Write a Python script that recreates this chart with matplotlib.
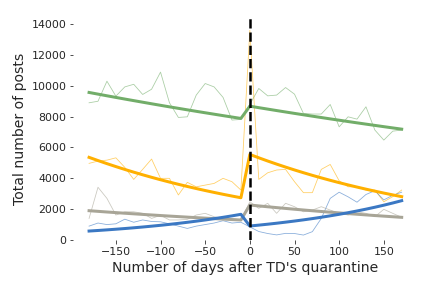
import matplotlib
matplotlib.use("Agg")
import matplotlib.pyplot as plt

# ===== data =====
days = list(range(-180, 180, 10))

# raw counts every 10 days
green_raw = [8900, 9000, 10300, 9330, 9930, 10100, 9440, 9780, 10890, 8900,
             7950, 7990, 9400, 10150, 9930, 9250, 7780, 7820,
             8800, 9830, 9350, 9400, 9890, 9460, 8210, 8170, 8170, 8790,
             7340, 7990, 7840, 8640, 7130, 6480, 7060, 7130]
orange_raw = [4970, 5120, 5180, 5330, 4710, 3930, 4580, 5250, 4000, 4000,
              2920, 3740, 3450, 3560, 3670, 4000, 3780, 3240,
              13600, 3930, 4360, 4540, 4580, 3780, 3070, 3070, 4580, 4900,
              3840, 3450, 3450, 3240, 3240, 2480, 2810, 3240]
blue_raw = [900, 1100, 1000, 1050, 1350, 1150, 1300, 1200, 1180, 1050,
            900, 750, 900, 1000, 1100, 1250, 1100, 1150,
            850, 550, 420, 330, 430, 420, 320, 540, 1400, 2700,
            3100, 2800, 2450, 2950, 3200, 2600, 2900, 3100]
gray_raw = [1400, 3420, 2700, 1620, 1830, 1830, 1730, 1400, 1600, 1300,
            1300, 1340, 1620, 1730, 1510, 1400, 1400, 1300,
            2480, 2050, 2380, 1730, 2380, 2160, 1830, 1940, 2160, 1940,
            1730, 1620, 1830, 1730, 1510, 1990, 1730, 1470]

# fitted trends, before and after day 0
green_fit = [9570, 9462, 9354, 9248, 9143, 9040, 8938, 8836, 8736, 8637,
             8540, 8443, 8347, 8253, 8160, 8067, 7976, 7885,
             8680, 8584, 8490, 8396, 8304, 8212, 8122, 8032, 7944, 7856,
             7770, 7684, 7599, 7516, 7433, 7351, 7270, 7190]
orange_fit = [5360, 5153, 4953, 4762, 4577, 4400, 4230, 4066, 3909, 3758,
              3612, 3472, 3338, 3209, 3085, 2965, 2851, 2740,
              5550, 5332, 5123, 4922, 4729, 4543, 4365, 4193, 4029, 3871,
              3719, 3573, 3433, 3298, 3168, 3044, 2925, 2810]
blue_fit = [580, 617, 657, 699, 743, 791, 842, 896, 953, 1014,
            1079, 1148, 1221, 1299, 1383, 1471, 1565, 1665,
            907, 964, 1024, 1088, 1157, 1229, 1306, 1388, 1475, 1568,
            1666, 1771, 1882, 2000, 2125, 2258, 2400, 2550]
gray_fit = [1900, 1858, 1816, 1776, 1736, 1698, 1660, 1623, 1587, 1551,
            1517, 1483, 1450, 1418, 1386, 1355, 1325, 1296,
            2268, 2211, 2155, 2101, 2048, 1996, 1946, 1897, 1849, 1803,
            1757, 1713, 1670, 1628, 1587, 1547, 1508, 1470]

GREEN = "#72ad69"
ORANGE = "#ffb000"
BLUE = "#3b78c3"
GRAY = "#a8a597"

fig = plt.figure(figsize=(6, 4), dpi=72)
ax = fig.add_axes([0.170, 0.1667, 0.796, 0.7708])

# thin raw lines
for raw, col in [(green_raw, GREEN), (orange_raw, ORANGE),
                 (blue_raw, BLUE), (gray_raw, GRAY)]:
    ax.plot(days, raw, color=col, lw=0.8, alpha=0.6, zorder=1)

# thick fitted lines
for fit, col in [(green_fit, GREEN), (orange_fit, ORANGE),
                 (gray_fit, GRAY), (blue_fit, BLUE)]:
    ax.plot(days, fit, color=col, lw=3, zorder=2)

ax.axvline(0, color="black", ls="--", lw=2.5, zorder=3)

ax.set_xlim(-197.5, 187.5)
ax.set_ylim(0, 14400)
ax.set_xticks([-150, -100, -50, 0, 50, 100, 150])
ax.set_yticks(range(0, 14001, 2000))

for s in ax.spines.values():
    s.set_visible(False)
ax.tick_params(labelsize=11, length=3.5, color="0.15", labelcolor="0.15")

ax.set_xlabel("Number of days after TD's quarantine", fontsize=14, color="0.15")
ax.set_ylabel("Total number of posts", fontsize=14, color="0.15")

fig.savefig("out.png", dpi=72)
